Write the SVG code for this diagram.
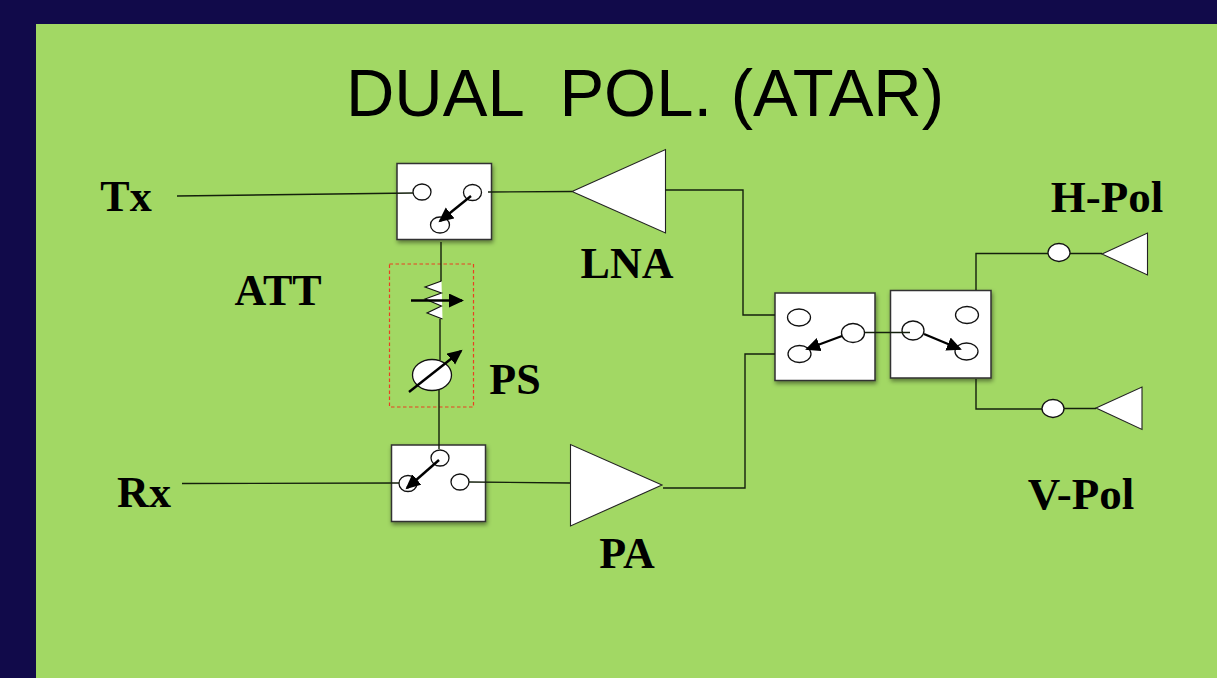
<svg xmlns="http://www.w3.org/2000/svg" width="1217" height="678" viewBox="0 0 1217 678">
<style>
.t{font-family:"Liberation Serif",serif;font-weight:bold;font-size:44px;fill:#000}
.w{fill:none;stroke:#14200c;stroke-width:1.4}
.box{fill:#fff;stroke:#303030;stroke-width:1.5;filter:url(#sh)}
.c{fill:#fff;stroke:#111;stroke-width:1.3}
.tri{fill:#fff;stroke:#222;stroke-width:1.1}
.arr{stroke:#000;stroke-width:2.4;fill:none;marker-end:url(#ah)}
</style>
<defs>
<marker id="ah" markerUnits="userSpaceOnUse" markerWidth="17" markerHeight="15" refX="13" refY="7" orient="auto"><path d="M0 0L15 7L0 14Z" fill="#000"/></marker>
<filter id="sh" x="-10%" y="-10%" width="125%" height="125%"><feDropShadow dx="1" dy="2.500" stdDeviation="2" flood-color="#000" flood-opacity="0.45"/></filter>
</defs>
<rect width="1217" height="678" fill="#110a4a"/>
<rect x="36" y="24" width="1181" height="654" fill="#a2d864"/>
<text x="645" y="116" text-anchor="middle" xml:space="preserve" style="font-family:'Liberation Sans',sans-serif;font-size:67px">DUAL  POL. (ATAR)</text>
<g id="sw-tx">
<rect class="box" x="397" y="163.500" width="94.500" height="76"/>
<ellipse class="c" cx="422" cy="192" rx="9" ry="8"/>
<ellipse class="c" cx="472.500" cy="192.500" rx="9" ry="8"/>
<ellipse class="c" cx="440" cy="225" rx="9.500" ry="8"/>
<path class="arr" d="M471 196L440 221"/>
</g>
<g id="sw-rx">
<rect class="box" x="391.500" y="445" width="94" height="76.500"/>
<ellipse class="c" cx="440" cy="458" rx="9" ry="8"/>
<ellipse class="c" cx="408" cy="483.500" rx="9" ry="8"/>
<ellipse class="c" cx="460" cy="482" rx="9" ry="8"/>
<path class="arr" d="M439 460L407 488"/>
</g>
<g id="sw-a">
<rect class="box" x="775" y="293" width="100" height="87.500"/>
<ellipse class="c" cx="799" cy="317.500" rx="11.500" ry="8.500"/>
<ellipse class="c" cx="799.500" cy="354" rx="11.500" ry="8.500"/>
<ellipse class="c" cx="853" cy="333" rx="11.500" ry="9.500"/>
<path class="arr" d="M842 336L807 349"/>
</g>
<g id="sw-b">
<rect class="box" x="890.500" y="290.500" width="100.500" height="87.500"/>
<ellipse class="c" cx="913" cy="330.500" rx="11" ry="9.500"/>
<ellipse class="c" cx="967" cy="315" rx="11.500" ry="8.500"/>
<ellipse class="c" cx="966.500" cy="351.500" rx="11.500" ry="8.500"/>
<path class="arr" d="M924 334L960 349"/>
</g>
<g id="lna"><path class="tri" d="M665.500 149.500V233L572 191.500Z"/></g>
<g id="pa"><path class="tri" d="M570.500 444.500V526L662 485Z"/></g>
<g id="ant-h">
<ellipse class="c" cx="1059" cy="252.500" rx="11" ry="9"/>
<path class="tri" d="M1147.500 233V275L1102 254Z"/>
</g>
<g id="ant-v">
<ellipse class="c" cx="1053" cy="408.500" rx="11" ry="9"/>
<path class="tri" d="M1142 387V429.500L1096 408Z"/>
</g>
<g id="att-ps">
<rect x="389.500" y="264" width="84" height="143" fill="none" stroke="#ea3f22" stroke-width="1.200" stroke-dasharray="3.500 2.500"/>
<path d="M441.500 281L425 287L441.500 293L425 299L441.500 306L427 313L442.500 319Z" fill="#fff"/>
<path d="M441.500 281L425 287L441.500 293L425 299L441.500 306L427 313L442.500 319" fill="none" stroke="#111" stroke-width="1.100"/>
<ellipse class="c" cx="432" cy="375" rx="19.500" ry="15.500"/>
<path class="arr" d="M411 300.500H462"/>
<path class="arr" d="M409 392L461 351"/>
</g>
<g id="connectors">
<path class="w" d="M177 196L413 193"/>
<path class="w" d="M488 192L572 191.500"/>
<path class="w" d="M665 190H743V315H775"/>
<path class="w" d="M182 483.500L399 483"/>
<path class="w" d="M469 482L570 483"/>
<path class="w" d="M663 488H745V354H775"/>
<path class="w" d="M441 242V281M440 319V360M439 390V449"/>
<path class="w" d="M865 332.500H910"/>
<path class="w" d="M976 290V253.500H1048M1070 253.500H1102"/>
<path class="w" d="M976 379V409H1042M1064 408.500H1096"/>
</g>
<g id="labels">
<text class="t" x="126" y="211" text-anchor="middle">Tx</text>
<text class="t" x="144" y="507" text-anchor="middle">Rx</text>
<text class="t" x="278" y="305" text-anchor="middle">ATT</text>
<text class="t" x="515" y="394" text-anchor="middle">PS</text>
<text class="t" x="627" y="278" text-anchor="middle">LNA</text>
<text class="t" x="627" y="568" text-anchor="middle">PA</text>
<text class="t" x="1107" y="212" text-anchor="middle" style="font-size:45px">H-Pol</text>
<text class="t" x="1081" y="509" text-anchor="middle" style="font-size:45px">V-Pol</text>
</g>
</svg>
